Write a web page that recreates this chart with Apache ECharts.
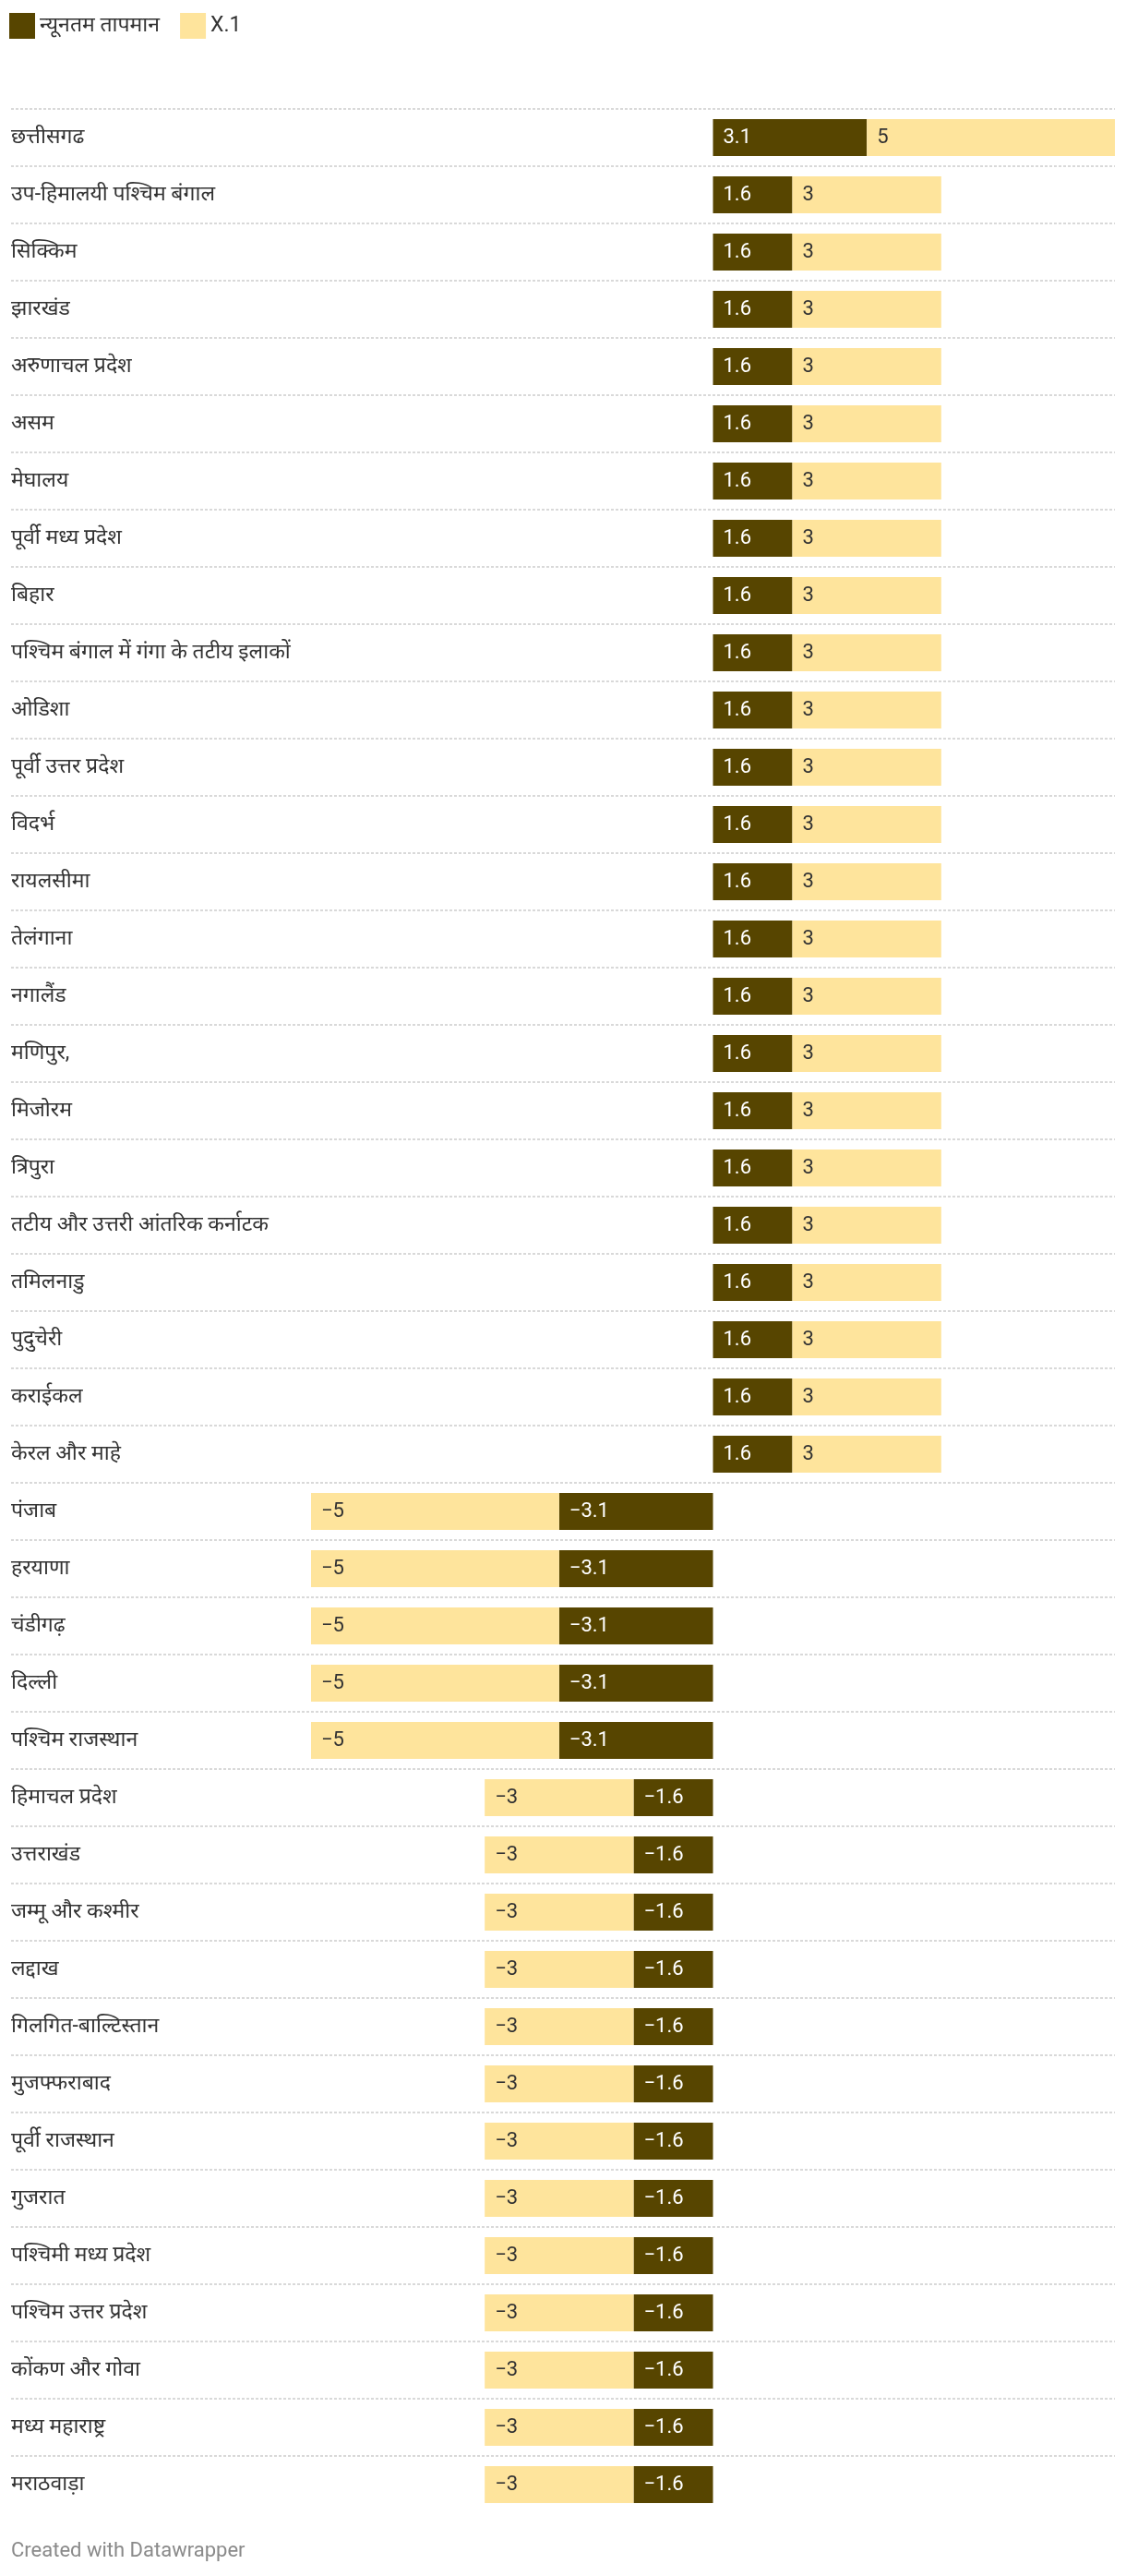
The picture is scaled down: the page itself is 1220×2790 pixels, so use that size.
<!DOCTYPE html>
<html>
<head>
<meta charset="utf-8">
<script src="https://cdn.jsdelivr.net/npm/echarts@6/dist/echarts.min.js"></script>
<style>
  html, body { margin: 0; padding: 0; background: #ffffff; }
  #chart { width: 1220px; height: 2790px; }
</style>
</head>
<body>
<div id="chart"></div>
<script>
const categories = [
  'छत्तीसगढ', 'उप-हिमालयी पश्चिम बंगाल', 'सिक्किम', 'झारखंड', 'अरुणाचल प्रदेश',
  'असम', 'मेघालय', 'पूर्वी मध्य प्रदेश', 'बिहार', 'पश्चिम बंगाल में गंगा के तटीय इलाकों',
  'ओडिशा', 'पूर्वी उत्तर प्रदेश', 'विदर्भ', 'रायलसीमा', 'तेलंगाना',
  'नगालैंड', 'मणिपुर,', 'मिजोरम', 'त्रिपुरा', 'तटीय और उत्तरी आंतरिक कर्नाटक',
  'तमिलनाडु', 'पुदुचेरी', 'कराईकल', 'केरल और माहे',
  'पंजाब', 'हरयाणा', 'चंडीगढ़', 'दिल्ली', 'पश्चिम राजस्थान',
  'हिमाचल प्रदेश', 'उत्तराखंड', 'जम्मू और कश्मीर', 'लद्दाख', 'गिलगित-बाल्टिस्तान',
  'मुजफ्फराबाद', 'पूर्वी राजस्थान', 'गुजरात', 'पश्चिमी मध्य प्रदेश', 'पश्चिम उत्तर प्रदेश',
  'कोंकण और गोवा', 'मध्य महाराष्ट्र', 'मराठवाड़ा'
];

const minTemp = [
  3.1,
  1.6, 1.6, 1.6, 1.6, 1.6, 1.6, 1.6, 1.6, 1.6, 1.6, 1.6, 1.6,
  1.6, 1.6, 1.6, 1.6, 1.6, 1.6, 1.6, 1.6, 1.6, 1.6, 1.6,
  -3.1, -3.1, -3.1, -3.1, -3.1,
  -1.6, -1.6, -1.6, -1.6, -1.6, -1.6, -1.6, -1.6, -1.6, -1.6, -1.6, -1.6, -1.6
];

const x1 = [
  5,
  3, 3, 3, 3, 3, 3, 3, 3, 3, 3, 3, 3,
  3, 3, 3, 3, 3, 3, 3, 3, 3, 3, 3,
  -5, -5, -5, -5, -5,
  -3, -3, -3, -3, -3, -3, -3, -3, -3, -3, -3, -3, -3
];

const seriesNames = ['न्यूनतम तापमान', 'X.1'];
const footerText = 'Created with Datawrapper';

const FONT = 'Roboto, "Noto Sans", "Noto Sans Devanagari", sans-serif';
const DARK = '#574500';
const LIGHT = '#fee49c';

const extentMax = Math.max(...minTemp.map((v, i) => Math.abs(v + x1[i])));
const fmt = (v) => (v < 0 ? '\u2212' + Math.abs(v) : String(v));

const rowH = 62;
const topY = 118;
const plotH = rowH * categories.length;

const chart = echarts.init(document.getElementById('chart'), null, { renderer: 'canvas' });

chart.setOption({
  animation: false,
  backgroundColor: '#ffffff',
  textStyle: { fontFamily: FONT },
  legend: {
    left: 10,
    top: 14,
    padding: 0,
    itemWidth: 28,
    itemHeight: 28,
    itemGap: 22,
    icon: 'rect',
    textStyle: { fontSize: 23, color: '#333333', fontFamily: FONT },
    data: seriesNames
  },
  grid: [
    { left: 12, right: 12, top: topY, height: plotH },
    { left: 337, right: 12, top: topY, height: plotH }
  ],
  xAxis: [
    { gridIndex: 0, type: 'value', min: 0, max: 1, show: false },
    { gridIndex: 1, type: 'value', min: -extentMax, max: extentMax, show: false }
  ],
  yAxis: [
    {
      gridIndex: 0,
      type: 'value',
      min: 0,
      max: categories.length,
      interval: 1,
      inverse: true,
      axisLine: { show: false },
      axisTick: { show: false },
      axisLabel: { show: false },
      splitLine: {
        show: true,
        showMinLine: true,
        showMaxLine: false,
        lineStyle: { color: '#d9d9d9', width: 2, type: [3, 2] }
      }
    },
    {
      gridIndex: 1,
      type: 'category',
      data: categories,
      inverse: true,
      axisLine: { show: false },
      axisTick: { show: false },
      splitLine: { show: false },
      axisLabel: {
        align: 'left',
        margin: 325,
        fontSize: 23,
        color: '#333333',
        fontFamily: FONT
      }
    }
  ],
  series: [
    {
      name: seriesNames[0],
      type: 'bar',
      xAxisIndex: 1,
      yAxisIndex: 1,
      stack: 'total',
      barWidth: 40,
      itemStyle: { color: DARK },
      label: {
        show: true,
        position: 'insideLeft',
        distance: 11,
        color: '#ffffff',
        fontSize: 22,
        fontFamily: FONT,
        formatter: (p) => fmt(p.value)
      },
      data: minTemp
    },
    {
      name: seriesNames[1],
      type: 'bar',
      xAxisIndex: 1,
      yAxisIndex: 1,
      stack: 'total',
      barWidth: 40,
      itemStyle: { color: LIGHT },
      label: {
        show: true,
        position: 'insideLeft',
        distance: 11,
        color: '#333333',
        fontSize: 22,
        fontFamily: FONT,
        formatter: (p) => fmt(p.value)
      },
      data: x1
    }
  ],
  graphic: [
    {
      type: 'text',
      left: 12,
      top: 2752,
      style: {
        text: footerText,
        fontSize: 22,
        fontFamily: FONT,
        fill: '#8a8a8a'
      }
    }
  ]
});
</script>
</body>
</html>
